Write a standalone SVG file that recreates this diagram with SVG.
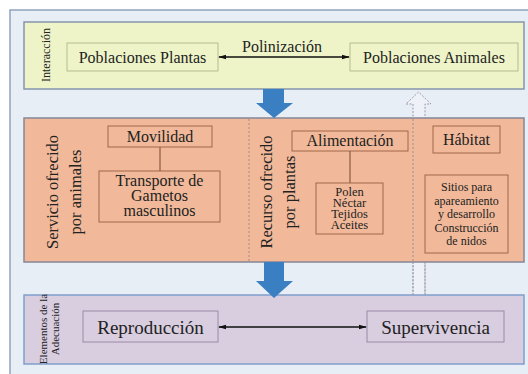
<svg xmlns="http://www.w3.org/2000/svg" width="528" height="374" viewBox="0 0 528 374">
<style>
text{font-family:"Liberation Serif";fill:#222;text-anchor:middle}
.panel{stroke-width:1.5}
.ybox{fill:#eef4c8;stroke:#b4bb8e;stroke-width:1}
.obox{fill:#f1b999;stroke:#a0664a;stroke-width:1}
.pbox{fill:#d9cde0;stroke:#9a8aa4;stroke-width:1}
.link{stroke:#111;stroke-width:1.3;fill:none}
.bluearrow{fill:#3a7fc1}
.div{stroke:#9a8f95;stroke-width:1;stroke-dasharray:2 2}
.hollow{stroke:#9a9aa6;stroke-width:1;stroke-dasharray:2 1.5}
</style>
<defs>
<marker id="ah" viewBox="0 0 10 10" refX="9" refY="5" markerWidth="6" markerHeight="6" orient="auto-start-reverse">
<path d="M0,2 L10,5 L0,8 z" fill="#111"/>
</marker>
</defs>
<rect x="10" y="10" width="530" height="380" fill="#e8eef6" stroke="#8ea3bd" stroke-width="1.5"/>
<path class="hollow" d="M413,295 L413,104 L406,104 L418.5,92 L431,104 L425,104 L425,295" fill="#eef2f8"/>
<g id="panel-interaccion">
<rect class="panel" x="24" y="22" width="500" height="67" fill="#eef4c8" stroke="#8594ab"/>
<text transform="translate(46,55) rotate(-90)" dy="0.35em" font-size="12" font-family="Liberation Serif">Interacción</text>
</g>
<g id="panel-servicio">
<rect class="panel" x="24" y="118" width="500" height="144" fill="#f1b999" stroke="#858696"/>
<line class="div" x1="249" y1="119" x2="249" y2="261"/>
<line class="div" x1="413" y1="119" x2="413" y2="261"/>
<text transform="translate(63,192) rotate(-90)" font-size="16.5" font-family="Liberation Serif"><tspan x="0" y="-5">Servicio ofrecido</tspan><tspan x="0" y="18">por animales</tspan></text>
<text transform="translate(277,192) rotate(-90)" font-size="16.5" font-family="Liberation Serif"><tspan x="0" y="-5">Recurso ofrecido</tspan><tspan x="0" y="18">por plantas</tspan></text>
</g>
<g id="panel-adecuacion">
<rect class="panel" x="24" y="295" width="500" height="69" fill="#d9cde0" stroke="#7f9fcc"/>
<text transform="translate(51,329) rotate(-90)" font-size="11" font-family="Liberation Serif"><tspan x="0" y="-4">Elementos de la</tspan><tspan x="0" y="8">Adecuación</tspan></text>
</g>
<g id="arrow-down-1"><path class="bluearrow" d="M263,89 L284,89 L284,103 L293,103 L274,118 L256,103 L263,103 z"/></g>
<g id="arrow-down-2"><path class="bluearrow" d="M264,262 L284,262 L284,281 L293,281 L274,298 L256,281 L264,281 z"/></g>
<line class="hollow" x1="413" y1="262" x2="413" y2="295"/>
<line class="hollow" x1="425" y1="262" x2="425" y2="295"/>
<g id="poblaciones-plantas">
<rect class="ybox" x="67" y="43" width="151" height="28"/>
<text x="142.5" y="63" font-size="16" font-family="Liberation Serif">Poblaciones Plantas</text>
</g>
<g id="poblaciones-animales">
<rect class="ybox" x="350" y="43" width="168" height="28"/>
<text x="434" y="63" font-size="16" font-family="Liberation Serif">Poblaciones Animales</text>
</g>
<g id="polinizacion-label">
<text x="282" y="52" font-size="16" font-family="Liberation Serif">Polinización</text>
</g>
<g id="movilidad">
<rect class="obox" x="108" y="126" width="104" height="21"/>
<text x="160" y="142" font-size="16" font-family="Liberation Serif">Movilidad</text>
</g>
<g id="transporte">
<rect class="obox" x="99" y="171" width="121" height="51"/>
<text font-size="16" font-family="Liberation Serif"><tspan x="159.5" y="186">Transporte de</tspan><tspan x="159.5" y="201">Gametos</tspan><tspan x="159.5" y="216">masculinos</tspan></text>
</g>
<g id="alimentacion">
<rect class="obox" x="292" y="131" width="116" height="20"/>
<text x="350" y="146" font-size="16" font-family="Liberation Serif">Alimentación</text>
</g>
<g id="recursos">
<rect class="obox" x="316" y="183" width="67" height="51"/>
<text font-size="12.5" font-family="Liberation Serif"><tspan x="349.5" y="196">Polen</tspan><tspan x="349.5" y="207">Néctar</tspan><tspan x="349.5" y="218">Tejidos</tspan><tspan x="349.5" y="229">Aceites</tspan></text>
</g>
<g id="habitat">
<rect class="obox" x="433" y="126" width="67" height="27"/>
<text x="466.5" y="145" font-size="16" font-family="Liberation Serif">Hábitat</text>
</g>
<g id="sitios">
<rect class="obox" x="425" y="175" width="83" height="78"/>
<text font-size="12" font-family="Liberation Serif"><tspan x="466.5" y="191">Sitios para</tspan><tspan x="466.5" y="204.5">apareamiento</tspan><tspan x="466.5" y="218">y desarrollo</tspan><tspan x="466.5" y="231.5">Construcción</tspan><tspan x="466.5" y="245">de nidos</tspan></text>
</g>
<g id="reproduccion">
<rect class="pbox" x="83" y="311" width="135" height="31"/>
<text x="150.5" y="334" font-size="19" font-family="Liberation Serif">Reproducción</text>
</g>
<g id="supervivencia">
<rect class="pbox" x="367" y="311" width="137" height="31"/>
<text x="435.5" y="334" font-size="19" font-family="Liberation Serif">Supervivencia</text>
</g>
<g id="connectors">
<line class="link" x1="219" y1="57" x2="349" y2="57" marker-start="url(#ah)" marker-end="url(#ah)"/>
<line class="link" x1="219" y1="327" x2="366" y2="327" marker-start="url(#ah)" marker-end="url(#ah)"/>
<line stroke="#8a5a44" stroke-width="1.2" x1="160" y1="147" x2="160" y2="171"/>
<line stroke="#8a5a44" stroke-width="1.2" x1="350" y1="151" x2="350" y2="183"/>
</g>
</svg>
